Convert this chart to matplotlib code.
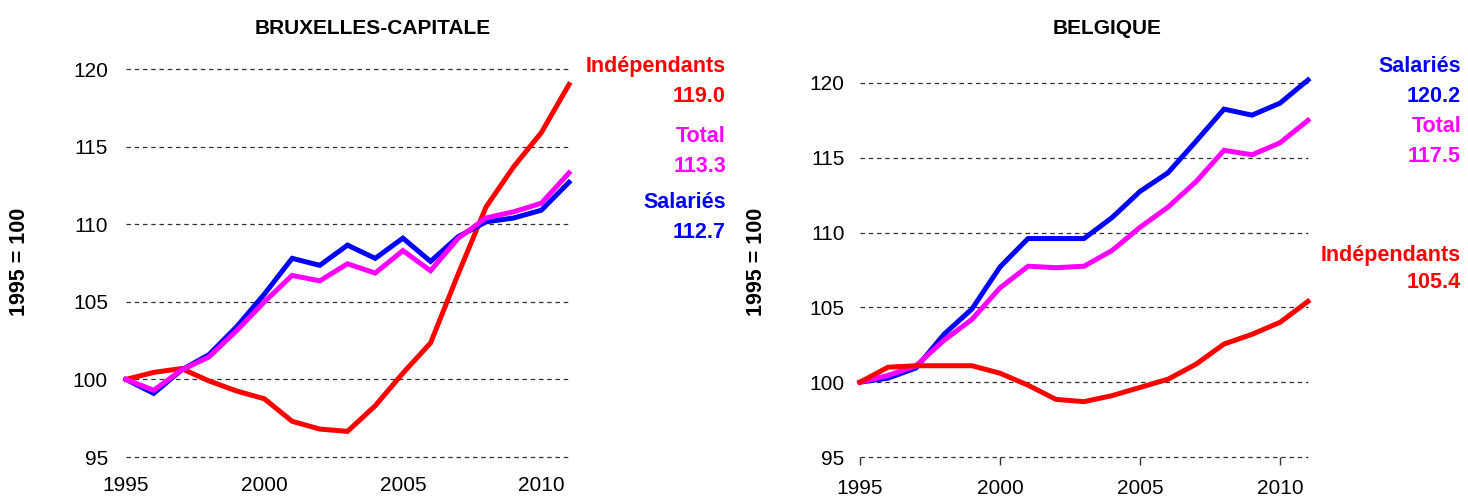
import matplotlib
matplotlib.use("Agg")
import matplotlib.pyplot as plt

plt.rcParams['font.family'] = ['Liberation Sans', 'DejaVu Sans']

years = list(range(1995, 2012))

bxl_indep = [100.0, 100.45, 100.7, 99.9, 99.25, 98.75, 97.3, 96.8, 96.65, 98.3,
             100.4, 102.35, 106.8, 111.1, 113.7, 115.9, 119.0]
bxl_sal = [100.0, 99.1, 100.6, 101.6, 103.4, 105.5, 107.8, 107.35, 108.65, 107.8,
           109.1, 107.6, 109.2, 110.15, 110.4, 110.9, 112.7]
bxl_tot = [100.0, 99.3, 100.6, 101.45, 103.15, 105.0, 106.7, 106.35, 107.45, 106.85,
           108.3, 107.0, 109.1, 110.4, 110.8, 111.35, 113.3]

be_sal = [100.0, 100.27, 100.95, 103.2, 104.9, 107.7, 109.6, 109.6, 109.6, 111.0,
          112.75, 114.0, 116.1, 118.25, 117.85, 118.65, 120.2]
be_tot = [100.0, 100.45, 101.1, 102.8, 104.2, 106.3, 107.75, 107.65, 107.75, 108.8,
          110.35, 111.7, 113.4, 115.5, 115.2, 116.0, 117.5]
be_indep = [100.0, 101.0, 101.1, 101.1, 101.1, 100.6, 99.8, 98.85, 98.7, 99.1,
            99.65, 100.2, 101.2, 102.55, 103.2, 104.0, 105.4]

titles = ["BRUXELLES-CAPITALE", "BELGIQUE"]
ylabel = "1995 = 100"
yticks = [95, 100, 105, 110, 115, 120]
xticks = [1995, 2000, 2005, 2010]

RED = "#FF0000"
BLUE = "#0000FF"
MAG = "#FF00FF"

W, H = 1468, 496
fig = plt.figure(figsize=(W / 100, H / 100), dpi=100)

def px_axes(x0, x1, ytop, ybot):
    return fig.add_axes([x0 / W, 1 - ybot / H, (x1 - x0) / W, (ybot - ytop) / H])

ax1 = px_axes(126, 569, 69, 457)
ax2 = px_axes(860, 1308, 68, 457)

def style(ax, ylim, show_xticks, ypad):
    ax.set_xlim(1995, 2011)
    ax.set_ylim(*ylim)
    for s in ax.spines.values():
        s.set_visible(False)
    ax.set_yticks(yticks)
    ax.set_xticks(xticks)
    ax.tick_params(axis='y', length=0, pad=ypad, labelsize=15)
    ax.tick_params(axis='x', length=6 if show_xticks else 0, width=1, color='#303030',
                   pad=9.5 if show_xticks else 13.5, labelsize=15, direction='out')
    for y in yticks:
        ax.axhline(y, color='#303030', lw=0.9, dashes=(3.6, 3.0), zorder=0, clip_on=False)

lw = 3.6
ax1.plot(years, bxl_indep, color=RED, lw=lw, clip_on=False, solid_joinstyle='miter')
ax1.plot(years, bxl_sal, color=BLUE, lw=lw, clip_on=False, solid_joinstyle='miter')
ax1.plot(years, bxl_tot, color=MAG, lw=lw, clip_on=False, solid_joinstyle='miter')
style(ax1, (95, 120), False, 13)

ax2.plot(years, be_sal, color=BLUE, lw=lw, clip_on=False, solid_joinstyle='miter')
ax2.plot(years, be_tot, color=MAG, lw=lw, clip_on=False, solid_joinstyle='miter')
ax2.plot(years, be_indep, color=RED, lw=lw, clip_on=False, solid_joinstyle='miter')
style(ax2, (95, 121), True, 11)

# titles
fig.text(373 / W, 1 - 29 / H, titles[0], ha='center', va='center', fontsize=15, fontweight='bold')
fig.text(1107 / W, 1 - 29 / H, titles[1], ha='center', va='center', fontsize=15, fontweight='bold')

# y labels
fig.text(20 / W, 1 - 262 / H, ylabel, rotation=90, ha='center', va='center', fontsize=15.5, fontweight='bold')
fig.text(757 / W, 1 - 262 / H, ylabel, rotation=90, ha='center', va='center', fontsize=15.5, fontweight='bold')

def lab(x, y, s, c):
    fig.text(x / W, 1 - y / H, s, ha='right', va='center', fontsize=15.5, fontweight='bold', color=c)

lab(726, 67, "Indépendants", RED)
lab(726, 97, f"{bxl_indep[-1]:.1f}", RED)
lab(726, 136, "Total", MAG)
lab(726, 166, f"{bxl_tot[-1]:.1f}", MAG)
lab(726, 203, "Salariés", BLUE)
lab(726, 233, f"{bxl_sal[-1]:.1f}", BLUE)

lab(1461, 67, "Salariés", BLUE)
lab(1461, 97, f"{be_sal[-1]:.1f}", BLUE)
lab(1461, 127, "Total", MAG)
lab(1461, 157, f"{be_tot[-1]:.1f}", MAG)
lab(1461, 255, "Indépendants", RED)
lab(1461, 283, f"{be_indep[-1]:.1f}", RED)

fig.savefig("out.png", dpi=100)
